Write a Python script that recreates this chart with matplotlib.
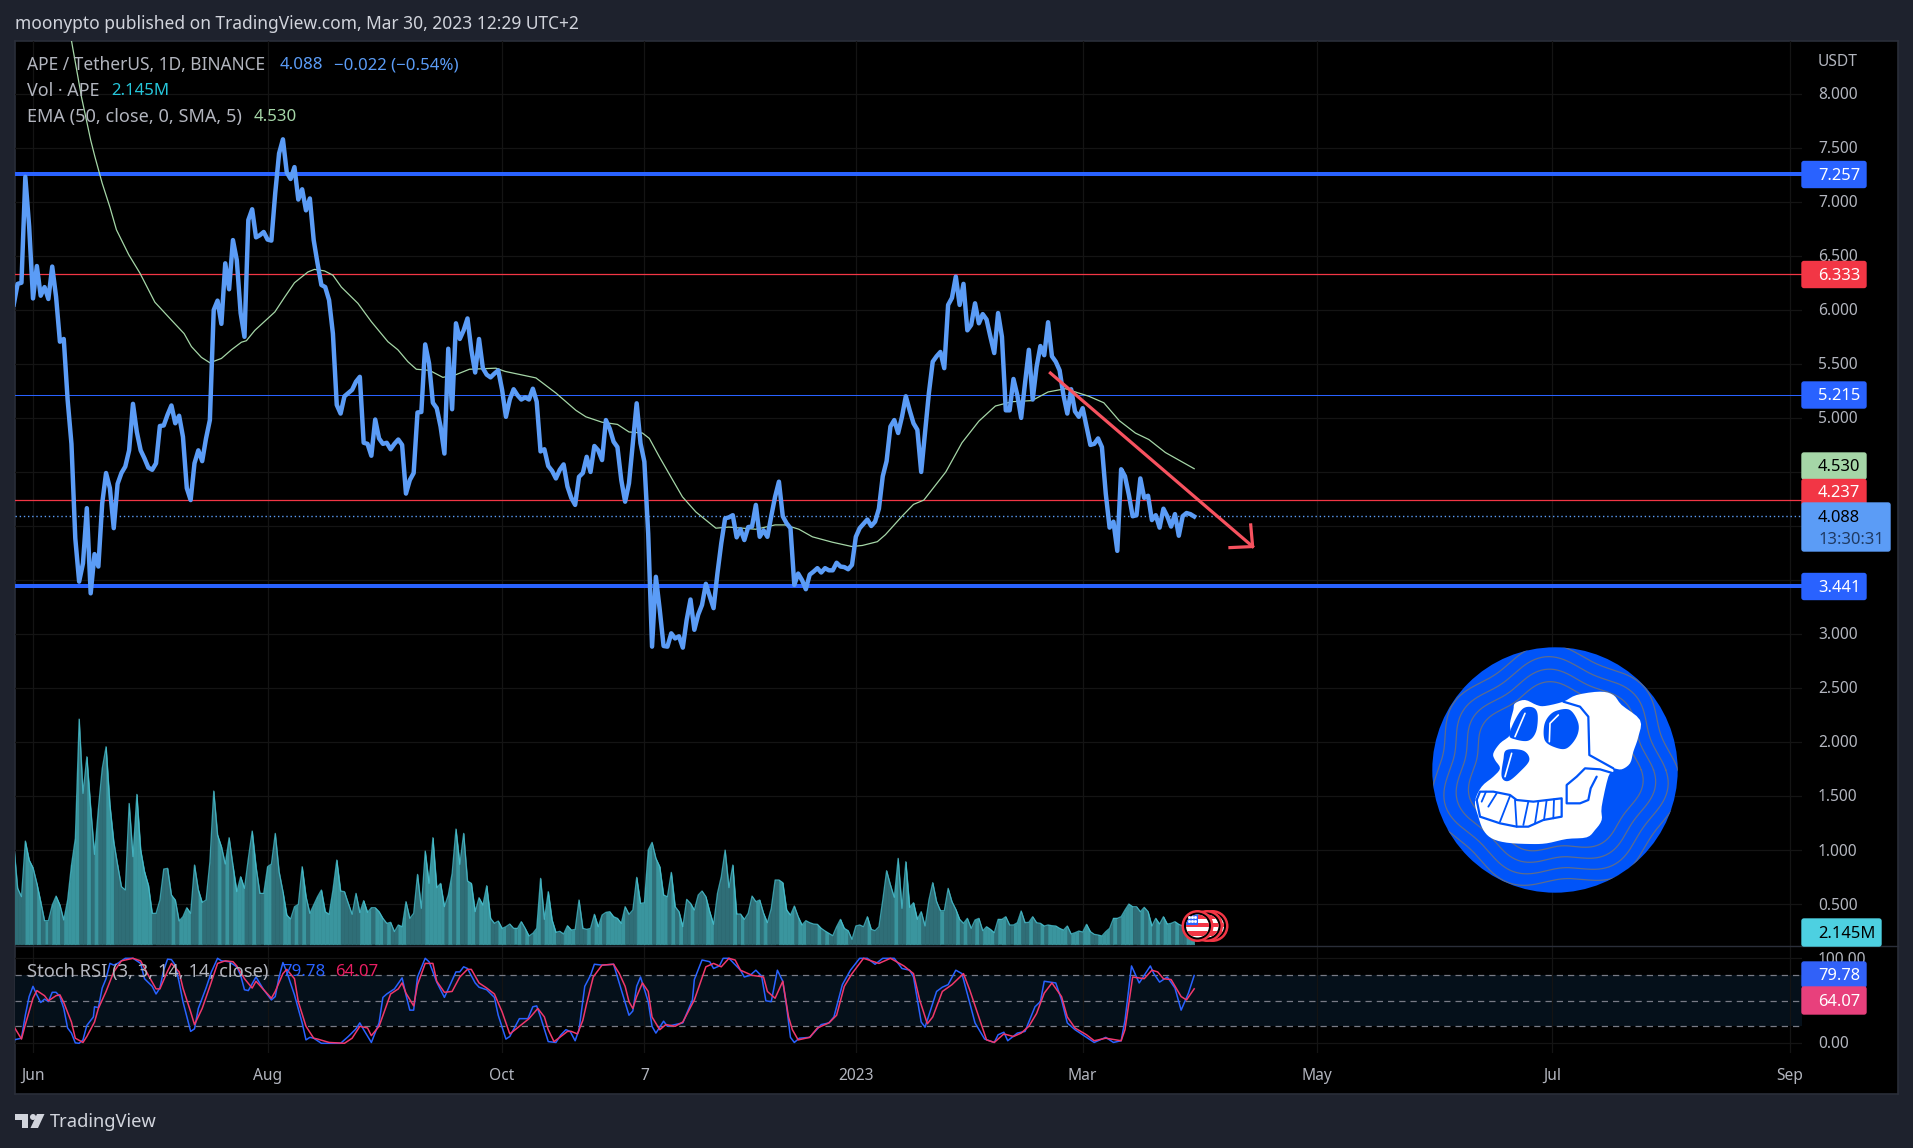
import numpy as np
import matplotlib
matplotlib.use("Agg")
import matplotlib.pyplot as plt
from matplotlib.patches import Circle, Rectangle, Polygon, FancyBboxPatch

# ------------------------------------------------------------------ data
# x values are days counted from 1 Jun 2022; the series is daily
first_day = -5
closes = [
 6.05,6.24,6.25,7.23,6.77,6.105,6.405,6.13,6.21,6.10,
 6.40,6.12,5.705,5.73,5.17,4.76,3.885,3.485,3.655,4.165,
 3.377,3.74,3.625,4.21,4.49,4.35,3.98,4.39,4.49,4.55,
 4.70,5.13,4.87,4.70,4.625,4.54,4.52,4.58,4.925,4.93,
 5.03,5.115,4.95,5.02,4.825,4.35,4.24,4.58,4.70,4.60,
 4.81,4.98,5.998,6.085,5.87,6.43,6.19,6.645,6.46,5.97,
 5.75,6.83,6.93,6.67,6.69,6.72,6.65,6.64,7.08,7.447,
 7.577,7.27,7.21,7.32,7.02,7.115,6.92,7.03,6.645,6.43,
 6.23,6.21,6.09,5.78,5.12,5.04,5.20,5.23,5.26,5.335,
 5.38,4.77,4.76,4.65,4.985,4.81,4.76,4.77,4.71,4.76,
 4.80,4.75,4.30,4.425,4.49,5.05,5.055,5.68,5.505,5.14,
 5.09,4.92,4.67,5.64,5.08,5.875,5.73,5.81,5.92,5.63,
 5.42,5.73,5.46,5.40,5.375,5.41,5.44,5.26,5.01,5.17,
 5.265,5.21,5.17,5.19,5.17,5.27,5.15,4.69,4.71,4.555,
 4.51,4.44,4.52,4.57,4.365,4.26,4.195,4.455,4.49,4.64,
 4.50,4.74,4.70,4.61,4.98,4.90,4.78,4.73,4.425,4.225,
 4.395,4.765,5.135,4.765,4.595,3.93,2.884,3.53,3.225,2.89,
 2.884,3.007,2.96,2.98,2.875,3.13,3.32,3.04,3.18,3.27,
 3.465,3.35,3.24,3.56,3.84,4.07,4.08,4.10,3.895,3.97,
 3.87,3.99,3.995,4.195,3.90,3.96,3.90,4.09,4.27,4.41,
 4.09,4.025,3.98,3.455,3.56,3.50,3.415,3.55,3.578,3.61,
 3.57,3.61,3.59,3.59,3.66,3.625,3.62,3.60,3.64,3.90,
 3.98,4.02,4.06,4.00,4.04,4.16,4.46,4.60,4.92,4.98,
 4.86,5.01,5.20,5.07,4.95,4.89,4.50,4.86,5.23,5.52,
 5.57,5.61,5.46,6.045,6.11,6.307,6.045,6.24,5.81,5.86,
 6.06,5.875,5.96,5.91,5.75,5.60,5.97,5.75,5.07,5.07,
 5.36,5.21,5.00,5.32,5.63,5.17,5.47,5.665,5.58,5.885,
 5.57,5.52,5.44,5.21,5.04,5.265,5.06,5.01,5.09,4.92,
 4.75,4.76,4.81,4.73,4.30,3.985,4.04,3.77,4.525,4.46,
 4.29,4.09,4.10,4.44,4.26,4.28,4.055,4.10,3.985,4.16,
 4.09,3.995,4.11,3.91,4.09,4.12,4.11,4.088]

volumes_m = [
 16.78,9.46,8.05,17.45,14.24,12.95,10.30,7.21,4.00,4.00,
 6.64,8.16,6.64,4.11,7.49,13.40,17.90,38.06,25.50,31.70,
 22.97,15.20,22.97,29.73,33.39,23.53,17.34,13.40,9.74,9.18,
 23.81,14.81,25.34,15.93,12.27,10.02,5.24,5.24,7.49,12.72,
 12.84,8.33,7.49,3.94,4.67,6.19,5.24,13.40,9.18,7.09,
 7.49,13.96,25.90,18.47,16.50,13.57,18.02,13.29,8.90,11.43,
 9.46,14.53,19.14,13.12,8.61,8.61,13.12,13.57,18.75,12.27,
 8.90,4.95,4.28,6.36,6.76,13.12,8.05,5.24,6.64,8.05,
 9.18,5.52,5.07,9.18,14.24,9.01,8.90,6.92,5.07,8.61,
 5.35,7.38,5.40,6.19,6.19,5.52,4.39,3.55,3.72,2.14,
 3.27,2.98,7.21,4.39,5.24,11.82,6.08,15.76,10.30,18.02,
 9.57,10.30,6.36,8.33,11.99,19.48,13.51,18.75,10.70,10.30,
 5.52,7.88,6.64,9.91,4.39,3.55,3.94,2.70,2.98,3.43,
 2.70,2.70,3.83,2.70,1.41,1.86,2.70,11.15,4.22,8.90,
 4.11,2.03,2.20,1.75,3.15,2.42,2.53,7.49,2.70,2.53,
 2.70,5.07,2.98,4.95,5.40,5.52,4.67,4.39,3.55,6.36,
 5.07,5.80,11.32,6.92,7.04,15.93,17.23,14.53,13.12,8.33,
 8.05,12.16,6.36,5.52,2.98,7.60,6.92,5.80,8.33,9.01,
 8.05,5.52,3.38,8.61,11.43,15.93,9.57,13.40,5.12,5.12,
 4.22,5.24,8.16,7.21,7.49,5.24,3.66,6.08,10.87,10.87,
 10.42,5.80,4.95,6.47,4.67,3.27,4.00,3.66,3.43,3.38,
 2.70,2.25,1.86,1.46,2.98,4.22,2.70,2.31,0.84,3.10,
 3.27,2.98,4.67,2.53,2.31,2.98,7.49,12.44,10.02,7.94,
 14.53,6.08,13.96,6.25,7.04,4.22,5.52,3.10,7.49,10.42,
 7.21,5.69,5.69,9.46,7.21,5.91,4.22,3.55,4.39,2.70,
 4.11,4.39,2.31,2.98,2.53,1.97,4.22,4.22,4.67,3.27,
 3.27,3.66,5.63,3.66,3.72,4.67,3.66,3.55,3.10,3.27,
 3.15,3.10,2.70,2.42,3.10,1.75,1.97,2.25,2.08,3.38,
 2.14,1.69,1.58,1.41,2.14,2.70,4.39,4.39,4.67,5.80,
 6.81,6.36,6.36,5.52,6.25,5.52,3.10,4.39,3.43,4.67,
 3.43,3.55,3.83,3.38,3.10,2.70,2.42,2.145]

ema_days = [10,12.6,15,16.1,18,20,21.7,24.9,27.8,31.7,36,39.3,41.2,43.8,46,49,51.6,54.2,55.5,57.7,
 62.9,65.5,68,71.5,73.2,75.8,78,80.2,84.5,88,92.3,94.9,97.5,99.7,103.1,106.6,110,113.5,120.4,122.8,
 130.8,136,138.6,141.2,143.8,148,152,155,158.5,160.3,162.9,166.3,168.9,172.4,177.6,181,188,193,195.6,
 199.2,202.7,207.9,213,215.7,219.6,221.7,226,229,231.7,237.4,241.6,246,250.3,254.6,259.8,264,268.5,
 274.6,278.5,282.5,286.7,290.2,294.5,298,302]
ema_vals = [8.49,7.97,7.57,7.416,7.17,6.95,6.74,6.51,6.34,6.07,5.905,5.78,5.66,5.56,5.51,5.55,5.63,5.70,5.714,5.81,
 5.98,6.12,6.25,6.35,6.374,6.36,6.32,6.21,6.06,5.89,5.705,5.63,5.52,5.45,5.44,5.375,5.40,5.45,5.46,5.43,
 5.37,5.23,5.15,5.07,5.01,4.96,4.94,4.87,4.86,4.81,4.64,4.43,4.27,4.13,3.98,3.99,3.97,4.01,4.01,
 3.97,3.90,3.85,3.81,3.82,3.855,3.92,4.09,4.20,4.24,4.50,4.77,4.97,5.11,5.15,5.16,5.24,5.27,
 5.20,5.14,4.975,4.86,4.80,4.68,4.61,4.53]

k_days = [-5,-3,-2,-1,0,1,2,3,4,5,6,7,8,9,10,11,12,13,14,15.7,16,17,18,19,20,21,22,24,26,28,29,31,32,33,34,35,36,37,38,39,41,42,43,45,46.4,48,49,51,53,54,55,56,58,60,62,63,64,65,66,68,70,71,72,73,75,80,82,84,85,86,88,90,91,92,94,96,97,98,99,100,102,103,105,107,108,110,111,112,113,115,116,118,120,121,123,124,
 126.5,128.7,130,131,132,134,136,137.3,138.6,139.7,141,142,143.5,145,146,148,151,152,155,156,157,158,160,161,162,164,165,167,169,170,171.5,172,174,176,177,178.5,179.5,181,184,185,186.5,188,189.5,190.6,192,193.6,195,196,197,198,199.3,202,205,207,208.3,210.5,212.6,215,217,219,221,224,226,228,229,231,232,235,236.5,238,240,241.6,245,247.5,250,251,252.5,253.5,256,258,
 260.6,262,263,266,267.5,269,271,274,276,279,281,283,284,285.7,287.7,290.6,291.5,293,295,297,298.6,300.5,302]
k_vals = [4,6,33,55,67,57,48,52,49,60,60,55,41,18,12,0.5,0,4,21,31,43,42,65,76,94,92,94,100,100,94,76,67,58,65,86,99,98.5,92,72,49,14,17,41,65,84,100,97,96,90,80,63,62,78,63,51,55,78,95,84,57,24,4,7,6,0,0,8,17,24,16,1,24,54,58,64,77,57,39,39,78,100,96,72,54,64,84,84,90,88,71,66,63,54,33,5,8,
 29,29,43,44,31,2,1,10,16,14,3,16,67,80,93,92,93,78,33,38,67,78,49,20,12,26,20,22,24,35,51,75,98,96,88,91,100,100,86,78,80,86,79,50,49,86,73,43,7,1,6,7,22,24,31,69,86,100,100,93,100,100,88,86,78,25,19,61,66,69,86,82,24,5,1,10,13,3,12,14,
 43,49,73,71,51,24,16,7,1,7,1,3,27,91,71,91,82,72,78,65,39,59,79.78]

d_days = [-5,-3,-2,0,1,3,4,6,7,8,10,11,13,14,16,17,19,21,23,26,28,30,32,33,35,36,38,39,41,42,44,46,48,50,52,53,55,57,58,60,62,63,65,66,68,69,71,73,74,77,81,83,85,87,88,90,93,95,96,97,99,100,102,104,105,107,109,111,113,114,116,118,120,122,124,
 126.5,129,131.3,133,134,135.5,137,139,140,141.6,143,144,145.7,148,151,152.5,154,155,156,157,158.5,160,161,163,164.6,167,169,172,173.7,175,177,179,181,182.6,184,187,190,191,193,195,196.5,197.5,199,202,204,207,209,211,213,216,220,223,226.5,229,230.6,232.6,234,236.5,239,242,243.6,246,248,250,252.5,255,257,259,
 261,263,265,267.5,269,271,274,276,279,283,284,286,289,291,292.5,294,296,298.6,300,302]
d_vals = [20,5,22,53,62,56,50,56,57,48,25,6,1,8,25,41,61,84,97,100,97,80,64,64,85,94,84,65,37,22,41,67,94,97,96,91,76,65,73,63,53,61,82,87,76,49,20,6,5,1,0,6,20,18,9,20,58,64,71,59,44,69,94,94,73,60,61,78,87,87,71,65,58,37,11,
 20,29,41,31,16,2,7,14,14,11,27,47,78,92,93,82,67,49,41,55,71,61,31,16,22,20,25,51,73,90,94,90,100,98,86,80,78,61,53,73,31,16,4,7,18,24,33,67,82,100,94,100,91,82,51,23,31,61,69,82,63,31,4,1,11,8,12,20,
 35,59,71,55,31,18,10,3,6,3,16,78,76,86,84,76,75,55,51,64.07]

price_ticks = [0.5,1.0,1.5,2.0,2.5,3.0,3.5,4.0,4.5,5.0,5.5,6.0,6.5,7.0,7.5,8.0]
time_ticks = [0,61,122,159,214,273,334,395,457]
time_labels = ["Jun","Aug","Oct","7","2023","Mar","May","Jul","Sep"]
thick_levels = [7.257,3.441]
red_levels = [6.333,4.237]
thin_blue_levels = [5.215]
last_price = 4.088
arrow_days = [264.6,317.2]
arrow_prices = [5.415,3.81]
head_days = [316.7,317.2,311.3]
head_prices = [4.01,3.81,3.80]

# ------------------------------------------------------------------ colours
FRAME="#1e222d"; BLUE="#2962ff"; LINE="#5b9cf6"; RED="#f23645"; GREEN="#a5d6a7"
AXT="#b2b5be"; GRID="#141414"; EDGE="#2a2e39"; PINK="#e91e63"; CYAN="#4dd0e1"; ARROW="#f7525f"

plt.rcParams['font.family']=['Noto Sans','DejaVu Sans']
W,H=1913,1148
fig=plt.figure(figsize=(W/100,H/100),dpi=100,facecolor=FRAME)
def rect(x0,y0,x1,y1): return [x0/W,1-y1/H,(x1-x0)/W,(y1-y0)/H]

days=np.arange(first_day,first_day+len(closes))
vols=np.array(volumes_m); px_day=3.845
xl=((15-33)/px_day,(1802-33)/px_day)

bg=fig.add_axes(rect(15,41,1898,1094),facecolor="black",zorder=0); bg.set_xticks([]); bg.set_yticks([])
for s in bg.spines.values(): s.set_color(EDGE); s.set_linewidth(1.2)

ax=fig.add_axes(rect(15,41,1802,946),facecolor="none",zorder=2)
ax.set_xlim(xl); ax.set_ylim(8-(946-93.6)/108.1,8+(93.6-41)/108.1)
ax.set_xticks(time_ticks); ax.set_yticks(price_ticks)
ax.tick_params(length=0,labelleft=False,labelbottom=False)
ax.grid(True,color=GRID,lw=0.9); ax.set_axisbelow(True)
for s in ax.spines.values(): s.set_visible(False)

av=fig.add_axes(rect(15,41,1802,946),facecolor="none",zorder=3); av.axis("off")
mpp=0.169
av.set_xlim(xl); av.set_ylim(-(946-944.3)*mpp,(944.3-41)*mpp)

st=fig.add_axes(rect(15,946,1802,1053),facecolor="none",zorder=2)
st.set_xlim(xl); st.set_ylim((1043.3-1053)/0.85,(1043.3-946)/0.85)
st.set_xticks(time_ticks); st.set_yticks([0,100])
st.tick_params(length=0,labelleft=False,labelbottom=False)
st.grid(True,color=GRID,lw=0.9); st.set_axisbelow(True)
for s in st.spines.values(): s.set_visible(False)

# volume area: one piece per day, shade by direction of the close
LIGHT="#3a959e"; DARK="#2f6e77"
c=np.array(closes)
for i in range(len(days)-1):
    col=DARK if c[i+1]>=c[i] else LIGHT
    av.fill_between(days[i:i+2],0,vols[i:i+2],facecolor=col,edgecolor=col,lw=0.45,zorder=1)
av.plot(days,vols,color=CYAN,lw=0.9,alpha=0.7,zorder=2)

top=fig.add_axes(rect(15,41,1802,946),facecolor="none",zorder=4); top.axis("off")
top.set_xlim(ax.get_xlim()); top.set_ylim(ax.get_ylim())
for lv in thick_levels: top.axhline(lv,color=BLUE,lw=2.9,zorder=3)
for lv in red_levels: top.axhline(lv,color=RED,lw=0.9,zorder=3)
for lv in thin_blue_levels: top.axhline(lv,color=BLUE,lw=0.75,zorder=3)
top.axhline(last_price,color=LINE,lw=1.0,ls=(0,(1,2)),zorder=3)
top.plot(ema_days,ema_vals,color=GREEN,lw=0.9,zorder=4)
top.plot(days,closes,color=LINE,lw=3.2,zorder=5,solid_joinstyle="round")
top.plot(arrow_days,arrow_prices,color=ARROW,lw=2.3,zorder=6)
top.plot(head_days,head_prices,color=ARROW,lw=2.3,zorder=6)

st.axhspan(20,80,color="#05101a",zorder=0.5,lw=0)
for lv in (80,50,20):
    st.axhline(lv,color="#787b86",lw=0.9,ls=(0,(5,4)),zorder=1)
st.plot(k_days,k_vals,color=BLUE,lw=1.1,zorder=3)
st.plot(d_days,d_vals,color="#f0386b",lw=1.1,zorder=4)

ov=fig.add_axes([0,0,1,1],facecolor="none",zorder=10); ov.set_xlim(0,W); ov.set_ylim(H,0); ov.axis("off")
ov.plot([15,1898],[946,946],color=EDGE,lw=1.0)

FS=11.2; LEG=12.9; VAL=12.1
def T(x,y,s,color=AXT,size=FS,ha="left",**k):
    return ov.text(x,y+1.2,s,color=color,fontsize=size,ha=ha,va="center",**k)
T(15,23,"moonypto published on TradingView.com, Mar 30, 2023 12:29 UTC+2",color="#d1d4dc",size=12.5)
T(27,64,"APE / TetherUS, 1D, BINANCE",size=12.5); T(280,64,"4.088",LINE,size=VAL); T(334,64,"−0.022 (−0.54%)",LINE,size=VAL)
T(27,90,"Vol · APE",size=LEG); T(111,90,"2.145M","#26c6da",size=VAL)
T(27,116,"EMA (50, close, 0, SMA, 5)",size=13.0); T(254,116,"4.530",GREEN,size=VAL)
T(27,971,"Stoch RSI (3, 3, 14, 14, close)",size=13.2); T(282,971,"79.78",BLUE,size=VAL); T(335,971,"64.07",PINK,size=VAL)

py=lambda p:93.6+(8-p)*108.1
for p in price_ticks: T(1818,py(p),f"{p:.3f}")
T(1818,61,"USDT")
T(1818,958.3,"100.00"); T(1818,1043.3,"0.00")

for d,lb in zip(time_ticks,time_labels):
    t=ov.text(33+px_day*d,1075.5,lb,color=AXT,fontsize=FS,ha="center",va="center",
              fontweight="semibold" if lb=="2023" else "normal")
    t.set_clip_path(Rectangle((15,1053),1787,41,transform=ov.transData))

def tag(y0,y1,color,txt,tc,x1=1868,second=None):
    ov.add_patch(FancyBboxPatch((1802,y0),x1-1802-2,y1-y0,boxstyle="round,pad=0,rounding_size=2",fc=color,ec=color,lw=1,zorder=5))
    T(1818,(y0+y1)/2 if not second else y0+14,txt,color=tc,zorder=6,size=11.9)
    if second: T(1818,y0+36,second,color="#1f3a63",zorder=6,size=11.9)
tag(161.5,187.5,BLUE,"7.257","white")
tag(261.5,287.5,RED,"6.333","white")
tag(382,408,BLUE,"5.215","white")
tag(453,479,GREEN,"4.530","black")
tag(479.5,505,RED,"4.237","white")
tag(503,551,LINE,"4.088","black",x1=1892,second="13:30:31")
tag(573.5,599.5,BLUE,"3.441","white")
tag(919,946,CYAN,"2.145M","black",x1=1883)
tag(962,987,"#3161f8","79.78","white")
tag(987,1014,"#e8407c","64.07","white")

# TradingView mark
ov.add_patch(Polygon([(15,1114),(28,1114),(28,1128),(22,1128),(22,1119.5),(15,1119.5)],fc="#d1d4dc",ec="none"))
ov.add_patch(Circle((33,1117),3,fc="#d1d4dc",ec="none"))
ov.add_patch(Polygon([(37,1114),(44.5,1114),(38,1128),(30.5,1128)],fc="#d1d4dc",ec="none"))
T(50,1121,"TradingView",color="#d1d4dc",size=13.2)

# event flags
for cx,z in ((1212.5,20),(1207,21),(1197.5,22)):
    ov.add_patch(Circle((cx,926),16,fc=RED,ec="none",zorder=z))
    ov.add_patch(Circle((cx,926),13.5,fc="black",ec="none",zorder=z))
    inner=Circle((cx,926),11.5,fc="white",ec="none",zorder=z); ov.add_patch(inner)
    for yy,hh in ((915,4),(923,4),(931,4.5)):
        r=Rectangle((cx-12,yy),24,hh,fc=RED,ec="none",zorder=z); ov.add_patch(r); r.set_clip_path(inner)
    r=Rectangle((cx-12,914),12,11,fc=BLUE,ec="none",zorder=z); ov.add_patch(r); r.set_clip_path(inner)
    for dx in (-9,-6,-3):
        for dy in (917,921):
            ov.plot([cx+dx],[dy],marker="s",ms=1,color="white",zorder=z)

# ApeCoin logo
cx,cy,R=1555,770,122.7
APE="#0054f9"
disc=Circle((cx,cy),R,fc=APE,ec="none",zorder=6); ov.add_patch(disc)
th=np.linspace(0,2*np.pi,400)
for rr,a in ((120,5.5),(108,5.0),(96,4.5),(84,4)):
    wob=a*np.sin(7*th+0.6)+a*.6*np.sin(3*th)
    ln,=ov.plot(cx+(rr+wob)*np.cos(th),cy+(rr+wob)*np.sin(th)*0.98,color="#5d6c8c",lw=0.9,zorder=7)
    ln.set_clip_path(disc)
Z=lambda pts:[(x/3+1400,y/3+620) for x,y in pts]
def smooth(pts,n=8):
    p=np.array(pts,float); out=[]; m=len(p)
    for i in range(m):
        p0,p1,p2,p3=p[(i-1)%m],p[i],p[(i+1)%m],p[(i+2)%m]
        for t in np.linspace(0,1,n,endpoint=False):
            out.append(0.5*((2*p1)+(-p0+p2)*t+(2*p0-5*p1+4*p2-p3)*t*t+(-p0+3*p1-3*p2+p3)*t**3))
    return [tuple(q) for q in out]
skull=[(345,250),(375,240),(410,255),(435,258),(490,245),(530,225),(600,215),(640,225),(665,255),(720,300),(715,350),(700,395),(690,430),(665,448),(640,445),(640,455),(625,470),(605,560),(605,600),(585,630),(560,652),(500,657),(440,670),(390,672),(320,668),(275,655),(250,630),(235,590),(225,545),(245,500),(280,470),(300,445),(285,420),(280,400),(300,370),(330,345),(330,310),(340,270)]
ov.add_patch(Polygon(Z(smooth(skull,4)),fc="white",ec="none",zorder=8))
eyeL=[(370,265),(400,263),(413,285),(408,335),(385,362),(345,358),(328,345),(345,300)]
ov.add_patch(Polygon(Z(smooth(eyeL)),fc=APE,ec="none",zorder=9))
eyeR=[(470,272),(510,270),(535,310),(530,350),(500,385),(465,382),(435,362),(432,320),(445,290)]
ov.add_patch(Polygon(Z(smooth(eyeR)),fc=APE,ec="none",zorder=9))
nose=[(320,390),(370,392),(388,420),(360,455),(325,483),(305,470),(310,420)]
ov.add_patch(Polygon(Z(smooth(nose)),fc=APE,ec="none",zorder=9))
def wl(pts,c=APE,lw=1.6):
    q=np.array(Z(pts)); ov.plot(q[:,0],q[:,1],color=c,lw=lw,zorder=10,solid_capstyle="round",solid_joinstyle="round")
wl([(375,280),(345,350)],"white",1.2); wl([(475,285),(450,310),(448,365)],"white",1.2); wl([(335,400),(315,470)],"white",1.2)
wl([(490,245),(540,260),(565,290),(568,405),(640,445)])
wl([(640,460),(600,448),(555,445),(530,470),(500,495),(500,550),(540,550),(565,540),(572,505),(590,470)])
wl([(230,540),(240,515),(280,515),(330,525),(350,540),(400,545),(485,535),(485,590),(430,600),(385,620),(350,620),(300,610),(240,590),(230,540)])
for a,b in [((258,515),(245,545)),((290,520),(265,560)),((330,528),(300,605)),((345,540),(350,620)),((385,545),(370,615)),((415,545),(405,610)),((440,540),(432,600)),((462,538),(460,595))]:
    wl([a,b],lw=1.3)

fig.savefig("out.png",dpi=100,facecolor=FRAME)
